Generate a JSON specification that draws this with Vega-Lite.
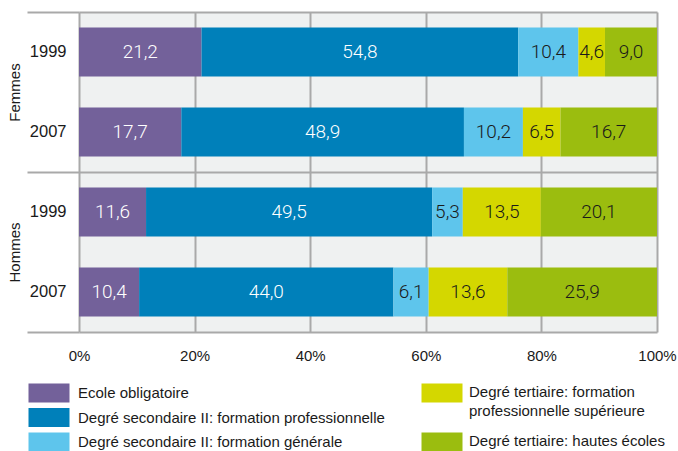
{
  "$schema": "https://vega.github.io/schema/vega-lite/v6.json",
  "width": 578,
  "height": 320,
  "autosize": "none",
  "padding": {"left": 79, "top": 12, "right": 21, "bottom": 119},
  "config": {
    "font": "Liberation Sans",
    "view": {"fill": "#eff1f1", "stroke": null},
    "locale": {"number": {"decimal": ",", "thousands": ".", "grouping": [3], "currency": ["", " €"]}},
    "axis": {"labelColor": "#1a1a1a", "labelFont": "Liberation Sans"},
    "legend": {"labelColor": "#1a1a1a", "labelFont": "Liberation Sans"}
  },
  "datasets": {
    "d": [
      {"ligne": "Femmes 1999", "sexe": "Femmes", "cat": "Ecole obligatoire", "k": 1, "v": 21.2},
      {"ligne": "Femmes 1999", "sexe": "Femmes", "cat": "Degré secondaire II: formation professionnelle", "k": 2, "v": 54.8},
      {"ligne": "Femmes 1999", "sexe": "Femmes", "cat": "Degré secondaire II: formation générale", "k": 3, "v": 10.4},
      {"ligne": "Femmes 1999", "sexe": "Femmes", "cat": "Degré tertiaire: formation professionnelle supérieure", "k": 4, "v": 4.6},
      {"ligne": "Femmes 1999", "sexe": "Femmes", "cat": "Degré tertiaire: hautes écoles", "k": 5, "v": 9.0},
      {"ligne": "Femmes 2007", "sexe": "Femmes", "cat": "Ecole obligatoire", "k": 1, "v": 17.7},
      {"ligne": "Femmes 2007", "sexe": "Femmes", "cat": "Degré secondaire II: formation professionnelle", "k": 2, "v": 48.9},
      {"ligne": "Femmes 2007", "sexe": "Femmes", "cat": "Degré secondaire II: formation générale", "k": 3, "v": 10.2},
      {"ligne": "Femmes 2007", "sexe": "Femmes", "cat": "Degré tertiaire: formation professionnelle supérieure", "k": 4, "v": 6.5},
      {"ligne": "Femmes 2007", "sexe": "Femmes", "cat": "Degré tertiaire: hautes écoles", "k": 5, "v": 16.7},
      {"ligne": "Hommes 1999", "sexe": "Hommes", "cat": "Ecole obligatoire", "k": 1, "v": 11.6},
      {"ligne": "Hommes 1999", "sexe": "Hommes", "cat": "Degré secondaire II: formation professionnelle", "k": 2, "v": 49.5},
      {"ligne": "Hommes 1999", "sexe": "Hommes", "cat": "Degré secondaire II: formation générale", "k": 3, "v": 5.3},
      {"ligne": "Hommes 1999", "sexe": "Hommes", "cat": "Degré tertiaire: formation professionnelle supérieure", "k": 4, "v": 13.5},
      {"ligne": "Hommes 1999", "sexe": "Hommes", "cat": "Degré tertiaire: hautes écoles", "k": 5, "v": 20.1},
      {"ligne": "Hommes 2007", "sexe": "Hommes", "cat": "Ecole obligatoire", "k": 1, "v": 10.4},
      {"ligne": "Hommes 2007", "sexe": "Hommes", "cat": "Degré secondaire II: formation professionnelle", "k": 2, "v": 44.0},
      {"ligne": "Hommes 2007", "sexe": "Hommes", "cat": "Degré secondaire II: formation générale", "k": 3, "v": 6.1},
      {"ligne": "Hommes 2007", "sexe": "Hommes", "cat": "Degré tertiaire: formation professionnelle supérieure", "k": 4, "v": 13.6},
      {"ligne": "Hommes 2007", "sexe": "Hommes", "cat": "Degré tertiaire: hautes écoles", "k": 5, "v": 25.9}
    ]
  },
  "data": {"name": "d"},
  "layer": [
    {
      "transform": [
        {"stack": "v", "groupby": ["ligne"], "sort": [{"field": "k", "order": "ascending"}], "as": ["x0", "x1"]}
      ],
      "layer": [
        {
          "transform": [{"filter": "datum.k <= 3"}],
          "mark": {"type": "bar"},
          "encoding": {
            "y": {
              "field": "ligne", "type": "nominal",
              "sort": ["Femmes 1999", "Femmes 2007", "Hommes 1999", "Hommes 2007"],
              "scale": {"paddingInner": 0.3875, "paddingOuter": 0.19375},
              "axis": {"title": null, "domain": false, "ticks": false, "grid": false, "labelPadding": 13, "labelFontSize": 16.5, "labelExpr": "slice(datum.value, -4)"}
            },
            "x": {
              "field": "x0", "type": "quantitative",
              "scale": {"domain": [0, 100]},
              "axis": {"title": null, "values": [0, 20, 40, 60, 80, 100], "labelExpr": "datum.value + '%'", "labelFlush": false, "grid": true, "gridColor": "#a9a9a9", "gridWidth": 2, "domain": false, "ticks": false, "labelPadding": 16, "labelFontSize": 15}
            },
            "x2": {"field": "x1"},
            "fill": {
              "field": "cat", "type": "nominal",
              "scale": {
                "domain": ["Ecole obligatoire", "Degré secondaire II: formation professionnelle", "Degré secondaire II: formation générale"],
                "range": ["#73619a", "#0080ba", "#5ec5ec"]
              },
              "legend": {
                "title": null, "orient": "none", "legendX": -37.5, "legendY": 373.5, "direction": "vertical",
                "symbolType": "M-4.1,-1.9H4.1V1.9H-4.1Z", "symbolSize": 100, "symbolStrokeWidth": 0,
                "labelFontSize": 15, "labelOffset": 21.5, "labelLimit": 0, "rowPadding": 5.5, "padding": 0
              }
            }
          }
        },
        {
          "transform": [{"filter": "datum.k >= 4"}],
          "mark": {"type": "bar"},
          "encoding": {
            "y": {
              "field": "ligne", "type": "nominal",
              "sort": ["Femmes 1999", "Femmes 2007", "Hommes 1999", "Hommes 2007"],
              "scale": {"paddingInner": 0.3875, "paddingOuter": 0.19375}
            },
            "x": {"field": "x0", "type": "quantitative", "scale": {"domain": [0, 100]}},
            "x2": {"field": "x1"},
            "color": {
              "field": "cat", "type": "nominal",
              "scale": {
                "domain": ["Degré tertiaire: formation professionnelle supérieure", "Degré tertiaire: hautes écoles"],
                "range": ["#d4d700", "#9bbd0f"]
              },
              "legend": {
                "title": null, "orient": "none", "legendX": 355.5, "legendY": 373.5, "direction": "vertical",
                "symbolType": "M-4.1,-1.9H4.1V1.9H-4.1Z", "symbolSize": 100, "symbolStrokeWidth": 0,
                "labelFontSize": 15, "labelOffset": 19.5, "labelLimit": 0, "rowPadding": 14, "padding": 0,
                "labelBaseline": "top",
                "labelExpr": "datum.label == 'Degré tertiaire: formation professionnelle supérieure' ? ['Degré tertiaire: formation', 'professionnelle supérieure'] : datum.label",
                "encode": {"labels": {"update": {"dy": {"value": -8.5}, "lineHeight": {"value": 19}}}}
              }
            }
          }
        },
        {
          "mark": {"type": "text", "font": "Roboto", "fontWeight": 300, "fontSize": 19, "baseline": "middle", "align": "center"},
          "encoding": {
            "y": {
              "field": "ligne", "type": "nominal",
              "sort": ["Femmes 1999", "Femmes 2007", "Hommes 1999", "Hommes 2007"],
              "scale": {"paddingInner": 0.3875, "paddingOuter": 0.19375}
            },
            "x": {"field": "v", "type": "quantitative", "stack": "zero", "bandPosition": 0.5, "scale": {"domain": [0, 100]}},
            "detail": {"field": "cat"},
            "order": {"field": "k", "type": "quantitative"},
            "text": {"field": "v", "type": "quantitative", "format": ".1f"},
            "color": {"condition": {"test": "datum.k <= 2", "value": "#ffffff"}, "value": "#1a1a1a"}
          }
        }
      ]
    },
    {
      "mark": {"type": "rule", "opacity": 0},
      "encoding": {
        "y": {
          "field": "sexe", "type": "nominal",
          "sort": ["Femmes", "Hommes"],
          "scale": {"type": "band", "paddingInner": 0, "paddingOuter": 0},
          "axis": {
            "orient": "left", "title": null, "tickBand": "extent", "ticks": true, "tickSize": 52,
            "tickColor": "#a9a9a9", "tickWidth": 2, "grid": true, "gridColor": "#a9a9a9", "gridWidth": 2,
            "domain": false, "labelAngle": -90, "labelAlign": "center", "labelBaseline": "bottom",
            "labelPadding": 5, "labelFontSize": 15
          }
        }
      }
    }
  ],
  "resolve": {"scale": {"y": "independent"}, "axis": {"y": "independent"}}
}
